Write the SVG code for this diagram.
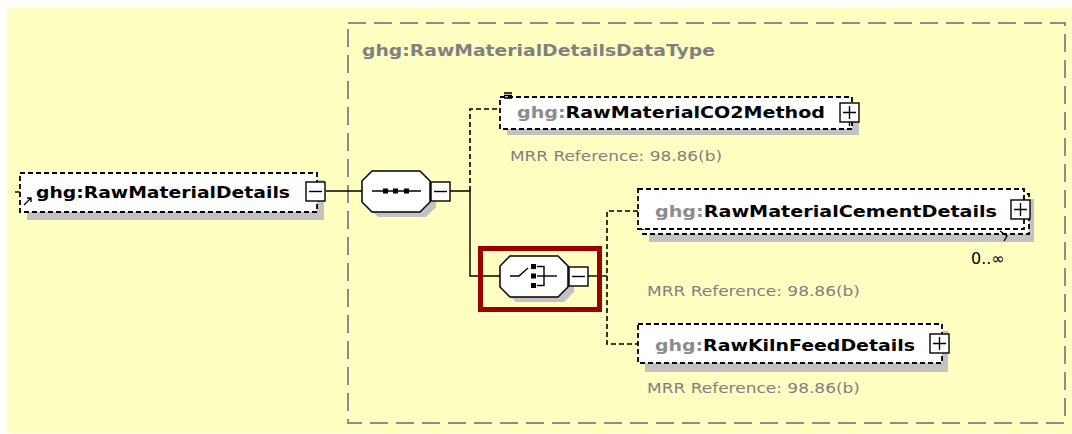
<svg xmlns="http://www.w3.org/2000/svg" width="1072" height="434" viewBox="0 0 1072 434">
  <style>
    .bg { fill: #FFFFC2; }
    .typebox { fill: none; stroke: #8C8C8C; stroke-width: 2; stroke-dasharray: 18 8; }
    .title { font-family: "DejaVu Sans", "Liberation Sans", sans-serif; font-weight: bold; font-size: 15px; fill: #808080; }
    .elbox { fill: #FFFFFF; stroke: #000000; stroke-width: 1.8; stroke-dasharray: 5 3; }
    .shadow { fill: #C2C2C2; }
    .name { font-family: "DejaVu Sans", "Liberation Sans", sans-serif; font-weight: bold; font-size: 15.5px; fill: #000000; }
    .prefix { fill: #8C8C8C; }
    .note { font-family: "DejaVu Sans", "Liberation Sans", sans-serif; font-size: 14px; fill: #808080; }
    .occurs { font-family: "DejaVu Sans", "Liberation Sans", sans-serif; font-size: 16px; fill: #000000; }
    .toggle { fill: #FFFFFF; stroke: #000000; stroke-width: 1.4; }
    .glyph { stroke: #000000; stroke-width: 1.4; fill: none; }
    .solid { stroke: #000000; stroke-width: 1.4; fill: none; }
    .dashed { stroke: #000000; stroke-width: 1.6; fill: none; stroke-dasharray: 5 3; }
    .oct { fill: #FFFFFF; stroke: #000000; stroke-width: 1.5; }
    .sel { fill: none; stroke: #990000; stroke-width: 5; }
  </style>

  <rect class="bg" x="7" y="8" width="1065" height="425"/>

  <!-- complex type frame -->
  <g id="type-RawMaterialDetailsDataType">
    <rect class="typebox" x="348" y="23" width="717" height="400"/>
    <text class="title" x="362" y="56" textLength="353" lengthAdjust="spacingAndGlyphs">ghg:RawMaterialDetailsDataType</text>
  </g>

  <!-- connectors -->
  <g id="connectors">
    <line class="solid" x1="15" y1="192" x2="20" y2="192"/>
    <line class="solid" x1="326" y1="191" x2="362" y2="191"/>
    <polyline class="solid" points="450,191 470,191 470,276 500,276"/>
    <polyline class="dashed" points="470,191 470,109 500,109"/>
    <line class="solid" x1="588" y1="276" x2="607" y2="276"/>
    <polyline class="dashed" points="638,211 607,211 607,344 638,344"/>
  </g>

  <!-- root element -->
  <g id="el-RawMaterialDetails">
    <rect class="shadow" x="27" y="180" width="297" height="40"/>
    <rect class="elbox" x="20" y="173" width="297" height="39"/>
    <path class="glyph" d="M24 205 L31 198 M27 198 L31 198 L31 202" stroke-width="2"/>
    <text class="name" x="36" y="198" textLength="254" lengthAdjust="spacingAndGlyphs">ghg:RawMaterialDetails</text>
    <rect class="toggle" x="306" y="182" width="19" height="19"/>
    <line class="glyph" x1="309" y1="191.5" x2="322" y2="191.5"/>
  </g>

  <!-- sequence compositor -->
  <g id="seq-compositor">
    <polygon class="shadow" points="378,176 426,176 436,186 436,207 426,217 378,217 368,207 368,186"/>
    <polygon class="oct" points="372,171 420,171 430,181 430,202 420,212 372,212 362,202 362,181"/>
    <line class="glyph" x1="372" y1="191" x2="421" y2="191"/>
    <rect x="383" y="188.5" width="5" height="5" fill="#000"/>
    <rect x="393" y="188.5" width="5" height="5" fill="#000"/>
    <rect x="404" y="188.5" width="5" height="5" fill="#000"/>
    <rect class="toggle" x="431" y="182" width="19" height="19"/>
    <line class="glyph" x1="434" y1="191.5" x2="447" y2="191.5"/>
  </g>

  <!-- choice compositor (selected) -->
  <g id="choice-compositor">
    <rect class="sel" x="480.5" y="248.5" width="119" height="61"/>
    <polygon class="shadow" points="516,261 564,261 574,271 574,292 564,302 516,302 506,292 506,271"/>
    <polygon class="oct" points="510,256 558,256 568,266 568,287 558,297 510,297 500,287 500,266"/>
    <polyline class="glyph" points="510,276 519,276 528,268"/>
    <rect x="531" y="264" width="5" height="5" fill="#000"/>
    <rect x="531" y="273.5" width="5" height="5" fill="#000"/>
    <rect x="531" y="283" width="5" height="5" fill="#000"/>
    <polyline class="glyph" points="537,266.5 544,266.5 544,285.5 537,285.5"/>
    <line class="glyph" x1="537" y1="276" x2="557" y2="276"/>
    <rect class="toggle" x="569" y="267" width="19" height="19"/>
    <line class="glyph" x1="572" y1="276.5" x2="585" y2="276.5"/>
  </g>

  <!-- child: RawMaterialCO2Method -->
  <g id="el-RawMaterialCO2Method">
    <rect class="shadow" x="507" y="104" width="352" height="31"/>
    <rect class="elbox" x="500" y="97" width="352" height="32"/>
    <path class="glyph" d="M504 93 H512 M504 95.5 H512 M504 98 H512" stroke-width="1"/>
    <text class="name" x="517" y="118" textLength="308" lengthAdjust="spacingAndGlyphs"><tspan class="prefix">ghg:</tspan>RawMaterialCO2Method</text>
    <rect class="toggle" x="840" y="103" width="19" height="19"/>
    <path class="glyph" d="M843 112.5 H856 M849.5 106 V119 M849.5 122 V126"/>
    <text class="note" x="510" y="161" textLength="212" lengthAdjust="spacingAndGlyphs">MRR Reference:  98.86(b)</text>
  </g>

  <!-- child: RawMaterialCementDetails (0..unbounded) -->
  <g id="el-RawMaterialCementDetails">
    <rect class="shadow" x="649" y="199" width="385" height="43"/>
    <rect class="elbox" x="643" y="194" width="386" height="40"/>
    <rect class="elbox" x="638" y="189" width="386" height="40"/>
    <text class="name" x="655" y="217" textLength="342" lengthAdjust="spacingAndGlyphs"><tspan class="prefix">ghg:</tspan>RawMaterialCementDetails</text>
    <rect class="toggle" x="1011" y="200" width="19" height="19"/>
    <path class="glyph" d="M1014 209.5 H1027 M1020.5 203 V216"/>
    <path class="glyph" d="M1000 231 L1007 236 L1004 241" stroke-width="1"/>
    <text class="occurs" x="971" y="264">0..∞</text>
    <text class="note" x="647" y="296" textLength="213" lengthAdjust="spacingAndGlyphs">MRR Reference:  98.86(b)</text>
  </g>

  <!-- child: RawKilnFeedDetails -->
  <g id="el-RawKilnFeedDetails">
    <rect class="shadow" x="645" y="331" width="303" height="41"/>
    <rect class="elbox" x="638" y="324" width="304" height="39"/>
    <text class="name" x="655" y="351" textLength="260" lengthAdjust="spacingAndGlyphs"><tspan class="prefix">ghg:</tspan>RawKilnFeedDetails</text>
    <rect class="toggle" x="930" y="334" width="19" height="19"/>
    <path class="glyph" d="M933 343.5 H946 M939.5 337 V350"/>
    <text class="note" x="647" y="393" textLength="213" lengthAdjust="spacingAndGlyphs">MRR Reference:  98.86(b)</text>
  </g>
</svg>
